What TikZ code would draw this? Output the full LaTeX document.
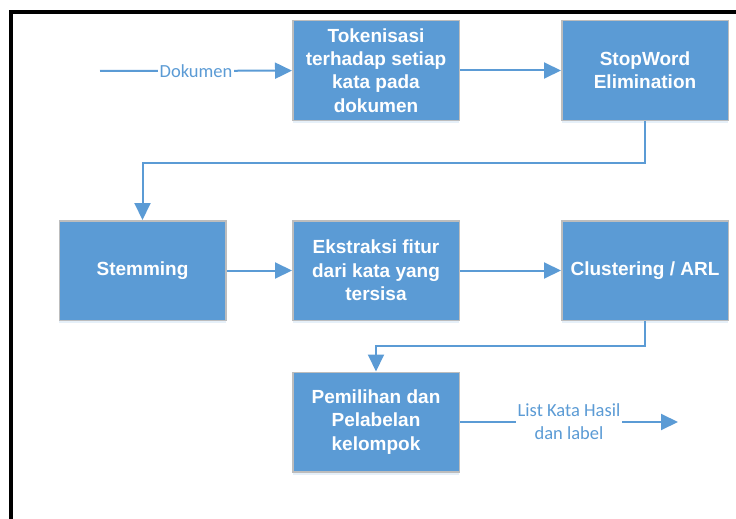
\documentclass[tikz,border=0pt]{standalone}
\usepackage{fontspec}
\setmainfont{Liberation Sans}
\newfontfamily\labelfont{Carlito}
\usetikzlibrary{arrows.meta}
\usetikzlibrary{shadows}

\definecolor{kotak}{HTML}{5B9BD5}
\definecolor{tepi}{HTML}{BDBDBD}
\definecolor{panah}{HTML}{5B9BD5}

\tikzset{
	proses/.style={draw=tepi, line width=1.5pt, fill=kotak, minimum width=166.5pt, minimum height=99.5pt,
		inner sep=0pt, align=center, text=white, font=\fontsize{19}{23.3}\selectfont\bfseries,
		drop shadow={shadow xshift=0pt, shadow yshift=-3pt, opacity=.25, fill=kotak!60}},
	alur/.style={draw=panah, line width=2pt, -{Triangle[length=17pt,width=16pt]}},
	ket/.style={fill=white, text=panah, inner sep=2pt, align=center, font=\labelfont\fontsize{18.5}{23}\selectfont}
}

\begin{document}
\begin{tikzpicture}[x=1pt, y=1pt]
	\useasboundingbox (0,0) rectangle (736,-519);
	% bingkai
	\draw[line width=4pt] (11,-519) -- (11,-12) -- (736,-12);

	\node[proses] (token) at (376,-70.5) {Tokenisasi\\terhadap setiap\\kata pada\\dokumen};
	\node[proses] (stopword) at (645,-70.5) {StopWord\\Elimination};
	\node[proses] (stem) at (142.5,-270.5) {Stemming};
	\node[proses] (ekstrak) at (376,-270.5) {Ekstraksi fitur\\dari kata yang\\tersisa};
	\node[proses] (cluster) at (645,-270.5) {Clustering / ARL};
	\node[proses] (pilih) at (376,-422) {Pemilihan dan\\Pelabelan\\kelompok};

	\coordinate (masuk) at (100,-71);
	\coordinate (keluar) at (678,-422);

	\draw[alur] (masuk) -- node[ket] {Dokumen} (token);
	\draw[alur] (token) -- (stopword);
	\draw[alur] (stopword.south) -- ++(0,-42) -| (stem.north);
	\draw[alur] (stem) -- (ekstrak);
	\draw[alur] (ekstrak) -- (cluster);
	\draw[alur] (cluster.south) -- ++(0,-25) -| (pilih.north);
	\draw[alur] (pilih) -- node[ket] {List Kata Hasil\\dan label} (keluar);
\end{tikzpicture}
\end{document}
